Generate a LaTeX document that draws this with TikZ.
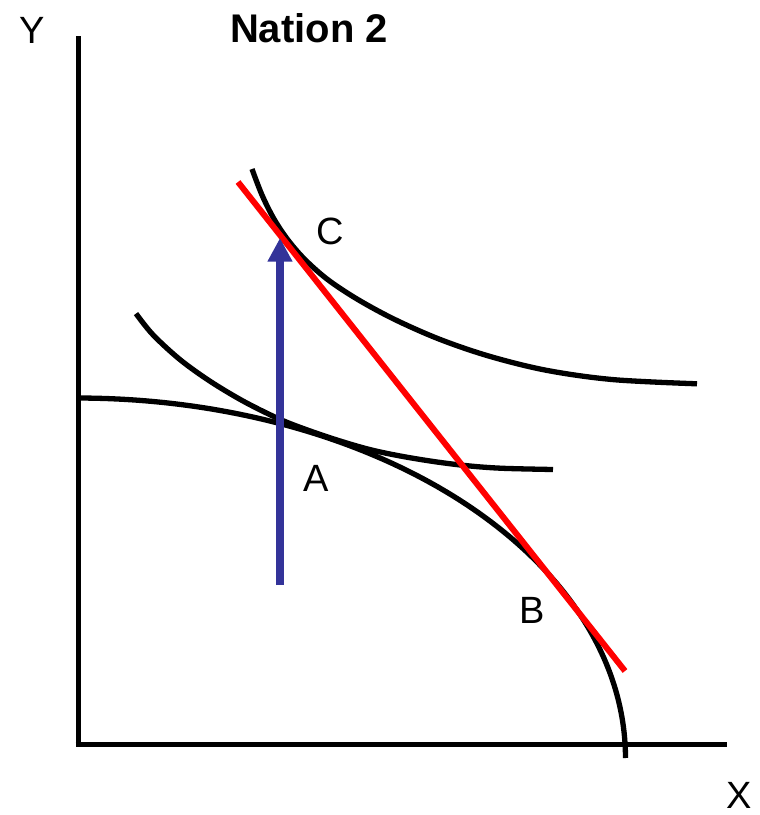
\documentclass[tikz,border=0pt]{standalone}
\usepackage{fontspec}
\setmainfont{Liberation Sans}
\usetikzlibrary{arrows.meta}
\definecolor{arrowblue}{HTML}{333399}
\definecolor{budgetred}{HTML}{FF0000}
\begin{document}
\begin{tikzpicture}[x=1pt,y=-1pt,
  axisline/.style={line width=5pt, black},
  curveline/.style={line width=5.3pt, black},
  budgetline/.style={line width=6pt, budgetred},
  tradearrow/.style={line width=7.3pt, arrowblue, -{Triangle[length=23.5pt, width=23.5pt]}},
  pointlabel/.style={font=\fontsize{38}{40}\selectfont, anchor=base, inner sep=0pt},
  titlelabel/.style={font=\fontsize{40}{42}\selectfont\bfseries, anchor=base, inner sep=0pt}]
\useasboundingbox (0,0) rectangle (760,815);
% axes
\coordinate (ytop) at (78,36);
\coordinate (origin) at (78,744);
\coordinate (xend) at (727,744);
\draw[axisline] (ytop) -- ([yshift=-2.5pt]origin);
\draw[axisline] ([xshift=-2.5pt]origin) -- (xend);
% production possibility frontier
\draw[curveline] plot[domain=0:90, samples=150, variable=\t] ({77+548.5*sin(\t)}, {758-360*cos(\t)});
% lower indifference curve
\draw[curveline] plot[smooth, tension=0.55] coordinates {(136,313.6) (153,334.8) (180,359.6) (210,381.2) (243,401) (277,418) (303,428.4) (337,440) (370,449.6) (403,456.5) (437,462) (470,466) (503,468.3) (553,469.5)};
% upper indifference curve
\draw[curveline] plot[smooth, tension=0.55] coordinates {(252,169) (262,195) (274,219) (288,240) (305,259.6) (328,279.8) (358,299.6) (395,319.6) (440,339.4) (490,356.4) (547,370.4) (613,379.6) (697,383.8)};
% terms of trade line
\coordinate (ttA) at (238,182);
\coordinate (ttB) at (625,671);
\draw[budgetline] (ttA) -- (ttB);
% trade arrow
\coordinate (arrbase) at (280,585);
\coordinate (arrtip) at (280,238);
\draw[tradearrow] (arrbase) -- (arrtip);
% labels
\node[titlelabel] (title) at (309,42.5) {Nation 2};
\node[pointlabel] (ylab) at (32.5,43.3) {Y};
\node[pointlabel] (xlab) at (739,808) {X};
\node[pointlabel] (clab) at (330,244.5) {C};
\node[pointlabel] (alab) at (316,491) {A};
\node[pointlabel] (blab) at (532.5,623) {B};
\end{tikzpicture}
\end{document}
